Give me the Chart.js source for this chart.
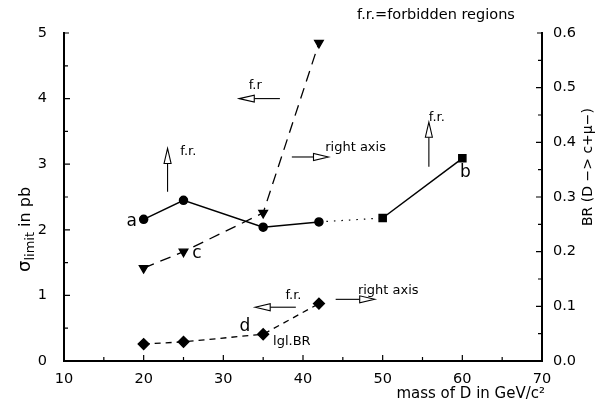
<!DOCTYPE html>
<html>
<head>
<meta charset="utf-8">
<script src="https://cdn.jsdelivr.net/npm/chart.js@4.4.0/dist/chart.umd.min.js"></script>
<style>
  html, body { margin: 0; padding: 0; background: #fff; }
  #wrap { width: 597px; height: 405px; }
</style>
</head>
<body>
<div id="wrap"><canvas id="chart"></canvas></div>
<script>
// curve a (circles) + b (squares), left axis
const massAB = [20, 25, 35, 42, 50, 60];
const sigmaAB = [2.16, 2.45, 2.04, 2.12, 2.18, 3.09];
const markerAB = ['circle', 'circle', 'circle', 'circle', 'rect', 'rect'];
// curve c (triangles), right axis
const massC = [20, 25, 35, 42];
const brC = [0.17, 0.2, 0.271, 0.582];
// curve d (diamonds), right axis
const massD = [20, 25, 35, 42];
const brD = [0.031, 0.035, 0.049, 0.105];

const xTickValues = [10, 20, 30, 40, 50, 60, 70];
const leftTickValues = [0, 1, 2, 3, 4, 5];
const rightTickValues = [0, 0.1, 0.2, 0.3, 0.4, 0.5, 0.6];

const FONT = '"DejaVu Sans", sans-serif';

function pts(xs, ys) {
  return xs.map((v, i) => ({ x: v, y: ys[i] }));
}

// hollow arrow from (x0,y0) to tip (x1,y1), pixel coords
function arrow(ctx, x0, y0, x1, y1) {
  const ang = Math.atan2(y1 - y0, x1 - x0);
  const len = Math.hypot(x1 - x0, y1 - y0);
  const headL = 15, headW = 3.5;
  ctx.save();
  ctx.translate(x0, y0);
  ctx.rotate(ang);
  ctx.beginPath();
  ctx.moveTo(0, 0);
  ctx.lineTo(len - headL, 0);
  ctx.stroke();
  ctx.beginPath();
  ctx.moveTo(len, 0);
  ctx.lineTo(len - headL, -headW);
  ctx.lineTo(len - headL, headW);
  ctx.closePath();
  ctx.fillStyle = '#fff';
  ctx.fill();
  ctx.stroke();
  ctx.restore();
}

const overlay = {
  id: 'overlay',
  afterDraw(chart) {
    const { ctx, scales: { x, y, y1 } } = chart;
    const px = v => x.getPixelForValue(v);
    const py = v => y.getPixelForValue(v);
    ctx.save();
    ctx.strokeStyle = '#000';
    ctx.fillStyle = '#000';
    ctx.lineWidth = 1.2;

    // inward ticks
    ctx.beginPath();
    for (let v = 15; v < 70; v += 5) {
      ctx.moveTo(px(v), y.bottom); ctx.lineTo(px(v), y.bottom - (v % 10 ? 4 : 6));
    }
    for (let v = 0.5; v < 5; v += 0.5) {
      ctx.moveTo(x.left, py(v)); ctx.lineTo(x.left + (v % 1 ? 4 : 6), py(v));
    }
    for (let i = 1; i < 12; i++) {
      const yy = y1.getPixelForValue(i * 0.05);
      ctx.moveTo(x.right, yy); ctx.lineTo(x.right - (i % 2 ? 4 : 6), yy);
    }
    ctx.moveTo(x.left, y.top); ctx.lineTo(x.left + 5, y.top);
    ctx.moveTo(x.right, y.top); ctx.lineTo(x.right - 5, y.top);
    ctx.stroke();

    // curve letters
    ctx.textAlign = 'center';
    ctx.textBaseline = 'middle';
    ctx.font = '17px ' + FONT;
    ctx.fillText('a', px(18.5), py(2.12));
    ctx.fillText('b', px(60.4), py(2.87));
    ctx.fillText('c', px(26.7), py(1.63));
    ctx.fillText('d', px(32.7), py(0.52));

    ctx.font = '13px ' + FONT;
    ctx.fillText('lgl.BR', px(38.6), py(0.29));
    ctx.fillText('f.r', px(34.0), py(4.2));
    ctx.fillText('f.r.', px(25.6), py(3.19));
    ctx.fillText('right axis', px(46.6), py(3.26));
    ctx.fillText('f.r.', px(56.8), py(3.71));
    ctx.fillText('f.r.', px(38.8), py(0.99));
    ctx.fillText('right axis', px(50.7), py(1.08));
    ctx.font = '14.5px ' + FONT;
    ctx.fillText('f.r.=forbidden regions', 436, 15);

    // arrows
    ctx.lineWidth = 1.1;
    arrow(ctx, px(37.1), py(4.0), px(32.0), py(4.0));
    arrow(ctx, px(23.0), py(2.58), px(23.0), py(3.24));
    arrow(ctx, px(38.6), py(3.11), px(43.2), py(3.11));
    arrow(ctx, px(55.8), py(2.96), px(55.8), py(3.64));
    arrow(ctx, px(39.1), py(0.82), px(34.0), py(0.82));
    arrow(ctx, px(44.1), py(0.94), px(49.0), py(0.94));

    // left axis title
    ctx.save();
    ctx.translate(30, 272);
    ctx.rotate(-Math.PI / 2);
    ctx.textAlign = 'left';
    ctx.textBaseline = 'alphabetic';
    ctx.font = '18px ' + FONT;
    ctx.fillText('σ', 0, 0);
    let w = ctx.measureText('σ').width;
    ctx.font = '13px ' + FONT;
    ctx.fillText('limit', w, 4);
    w += ctx.measureText('limit').width;
    ctx.font = '16px ' + FONT;
    ctx.fillText(' in pb', w, 0);
    ctx.restore();

    // right axis title
    ctx.save();
    ctx.translate(592, 226);
    ctx.rotate(-Math.PI / 2);
    ctx.textAlign = 'left';
    ctx.textBaseline = 'alphabetic';
    ctx.font = '14px ' + FONT;
    ctx.fillText('BR (D −> c+μ−)', 0, 0);
    ctx.restore();

    // x axis title
    ctx.textAlign = 'right';
    ctx.font = '15px ' + FONT;
    ctx.fillText('mass of D in GeV/c²', 545, 394);

    ctx.restore();
  }
};

new Chart(document.getElementById('chart'), {
  type: 'line',
  data: {
    datasets: [
      {
        label: 'a, b',
        data: pts(massAB, sigmaAB),
        yAxisID: 'y',
        borderColor: '#000',
        backgroundColor: '#000',
        borderWidth: 1.5,
        pointStyle: markerAB,
        pointRadius: [4, 4, 4, 4, 5, 5],
        segment: {
          borderDash: c => c.p0DataIndex === 3 ? [1.5, 6] : undefined,
          borderWidth: c => c.p0DataIndex === 3 ? 1.2 : 1.5
        }
      },
      {
        label: 'c',
        data: pts(massC, brC),
        yAxisID: 'y1',
        borderColor: '#000',
        backgroundColor: '#000',
        borderWidth: 1.3,
        borderDash: [11, 7],
        pointStyle: 'triangle',
        rotation: 180,
        pointRadius: 5
      },
      {
        label: 'd',
        data: pts(massD, brD),
        yAxisID: 'y1',
        borderColor: '#000',
        backgroundColor: '#000',
        borderWidth: 1.3,
        borderDash: [6, 5],
        pointStyle: 'rectRot',
        pointRadius: 5.5
      }
    ]
  },
  options: {
    responsive: true,
    maintainAspectRatio: false,
    animation: false,
    layout: { padding: { top: 33, left: 0, right: 0, bottom: 0 } },
    plugins: { legend: { display: false }, tooltip: { enabled: false } },
    scales: {
      x: {
        type: 'linear',
        min: 10, max: 70,
        afterBuildTicks: s => { s.ticks = xTickValues.map(v => ({ value: v })); },
        afterFit: s => { s.height = 44; },
        grid: { display: false },
        border: { display: true, color: '#000', width: 2 },
        ticks: { color: '#000', font: { family: FONT, size: 14.5 }, padding: 2, maxRotation: 0 }
      },
      y: {
        position: 'left',
        min: 0, max: 5,
        afterBuildTicks: s => { s.ticks = leftTickValues.map(v => ({ value: v })); },
        afterFit: s => { s.width = 64; },
        grid: { display: false },
        border: { display: true, color: '#000', width: 2 },
        ticks: { color: '#000', font: { family: FONT, size: 14.5 }, padding: 9 }
      },
      y1: {
        position: 'right',
        min: 0, max: 0.6,
        afterBuildTicks: s => { s.ticks = rightTickValues.map(v => ({ value: v })); },
        afterFit: s => { s.width = 55; },
        grid: { display: false },
        border: { display: true, color: '#000', width: 2 },
        ticks: {
          color: '#000', font: { family: FONT, size: 14.5 }, padding: 3,
          callback: v => v.toFixed(1)
        }
      }
    }
  },
  plugins: [overlay]
});
</script>
</body>
</html>
